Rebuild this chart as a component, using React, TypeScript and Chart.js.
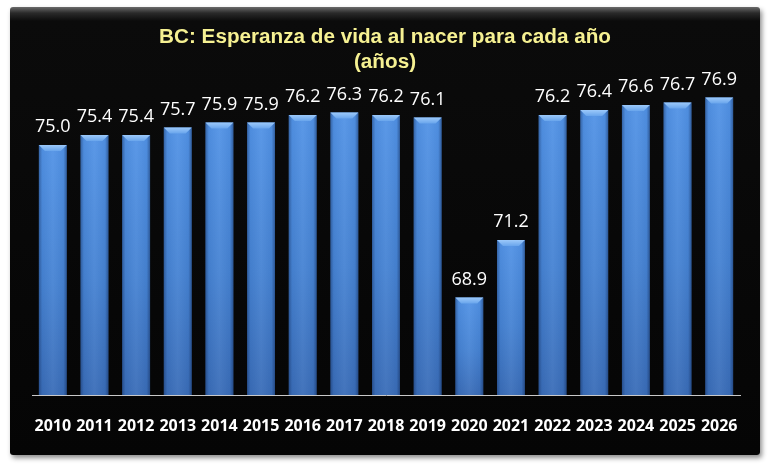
import React, { useEffect, useRef } from "react";
import { Chart, registerables } from "chart.js";

Chart.register(...registerables);

const years: string[] = [
  "2010", "2011", "2012", "2013", "2014", "2015", "2016", "2017", "2018",
  "2019", "2020", "2021", "2022", "2023", "2024", "2025", "2026",
];
const lifeExpectancy: number[] = [
  75.0, 75.4, 75.4, 75.7, 75.9, 75.9, 76.2, 76.3, 76.2,
  76.1, 68.9, 71.2, 76.2, 76.4, 76.6, 76.7, 76.9,
];
const titleLines: string[] = [
  "BC: Esperanza de vida al nacer para cada año",
  "(años)",
];

// Title drawn at fixed baselines above the plot
const titlePlugin = {
  id: "twoLineTitle",
  afterDraw(chart: any) {
    const ctx = chart.ctx;
    ctx.save();
    ctx.fillStyle = "#f6f192";
    ctx.font = "bold 20.7px 'Liberation Sans', Arial, sans-serif";
    ctx.textAlign = "center";
    ctx.textBaseline = "alphabetic";
    const cx = chart.width / 2;
    ctx.fillText(titleLines[0], cx, 36);
    ctx.fillText(titleLines[1], cx, 61);
    ctx.restore();
  },
};

// Cylinder-like shading for each bar plus a bevelled top
const barShadePlugin = {
  id: "barShade",
  afterDatasetDraw(chart: any, args: any) {
    const ctx = chart.ctx;
    const area = chart.chartArea;
    const meta = args.meta;
    ctx.save();
    meta.data.forEach((bar: any) => {
      const p = bar.getProps(["x", "y", "base", "width"], true);
      const x0 = p.x - p.width / 2;
      const x1 = p.x + p.width / 2;
      const y = p.y;
      const base = Math.min(p.base, area.bottom);
      const width = p.width;
      const h = base - y;

      const vg = ctx.createLinearGradient(0, y, 0, base);
      vg.addColorStop(0, "#5293e6");
      vg.addColorStop(0.55, "#4683d3");
      vg.addColorStop(1, "#3a6db8");
      ctx.fillStyle = vg;
      ctx.fillRect(x0, y, width, h);

      const hg = ctx.createLinearGradient(x0, 0, x1, 0);
      hg.addColorStop(0, "rgba(10,30,70,0.4)");
      hg.addColorStop(0.12, "rgba(10,30,70,0.05)");
      hg.addColorStop(0.5, "rgba(255,255,255,0.05)");
      hg.addColorStop(0.88, "rgba(10,30,70,0.05)");
      hg.addColorStop(1, "rgba(10,30,70,0.45)");
      ctx.fillStyle = hg;
      ctx.fillRect(x0, y, width, h);

      const bev = 6;
      const tg = ctx.createLinearGradient(0, y, 0, y + bev);
      tg.addColorStop(0, "#9cc9fa");
      tg.addColorStop(1, "#69a5ec");
      ctx.fillStyle = tg;
      ctx.beginPath();
      ctx.moveTo(x0, y);
      ctx.lineTo(x1, y);
      ctx.lineTo(x1 - bev, y + bev);
      ctx.lineTo(x0 + bev, y + bev);
      ctx.closePath();
      ctx.fill();
    });
    ctx.restore();
  },
};

// Value printed above each bar, year printed under the axis line
const labelPlugin = {
  id: "valueAndYearLabels",
  afterDatasetsDraw(chart: any) {
    const ctx = chart.ctx;
    const meta = chart.getDatasetMeta(0);
    const data = chart.data.datasets[0].data as number[];
    const xScale = chart.scales.x;
    ctx.save();
    ctx.fillStyle = "#ffffff";
    ctx.textAlign = "center";
    ctx.font = "18px 'Open Sans', sans-serif";
    ctx.textBaseline = "alphabetic";
    meta.data.forEach((bar: any, i: number) => {
      const { x, y } = bar.getProps(["x", "y"], true);
      ctx.fillText(data[i].toFixed(1), x, y - 13);
    });
    ctx.font = "bold 16px 'Open Sans', sans-serif";
    ctx.textBaseline = "middle";
    years.forEach((yr, i) => {
      ctx.fillText(yr, xScale.getPixelForValue(i), chart.chartArea.bottom + 31);
    });
    ctx.restore();
  },
};

export default function App() {
  const canvasRef = useRef<HTMLCanvasElement | null>(null);

  useEffect(() => {
    if (!canvasRef.current) return;
    const chart = new Chart(canvasRef.current, {
      type: "bar",
      data: {
        labels: years,
        datasets: [
          {
            data: lifeExpectancy,
            backgroundColor: "rgba(0,0,0,0)",
            borderWidth: 0,
            categoryPercentage: 0.67,
            barPercentage: 1,
          },
        ],
      },
      options: {
        responsive: false,
        animation: false,
        events: [],
        layout: { padding: { left: 22, right: 20, top: 63, bottom: 60 } },
        plugins: {
          legend: { display: false },
          tooltip: { enabled: false },
          title: { display: false },
        },
        scales: {
          x: {
            grid: { display: false, drawTicks: false },
            border: { display: true, color: "#c9c9c9", width: 1 },
            ticks: { display: false },
          },
          y: { display: false, min: 65, max: 78 },
        },
      },
      plugins: [barShadePlugin, labelPlugin, titlePlugin],
    });
    return () => chart.destroy();
  }, []);

  return (
    <div
      style={{
        position: "absolute",
        left: 0,
        top: 0,
        width: 770,
        height: 470,
        background: "#ffffff",
        overflow: "hidden",
      }}
    >
      <div
        style={{
          position: "absolute",
          left: 10,
          top: 7,
          width: 750,
          height: 448,
          borderRadius: 3,
          background:
            "linear-gradient(to bottom, #6a6a6a 0px, #2a2a2a 6px, #0b0b0b 14px, #050505 100%)",
          boxShadow: "2px 3px 5px rgba(0,0,0,0.45)",
        }}
      >
        <canvas ref={canvasRef} width={750} height={448} style={{ display: "block" }} />
      </div>
    </div>
  );
}
